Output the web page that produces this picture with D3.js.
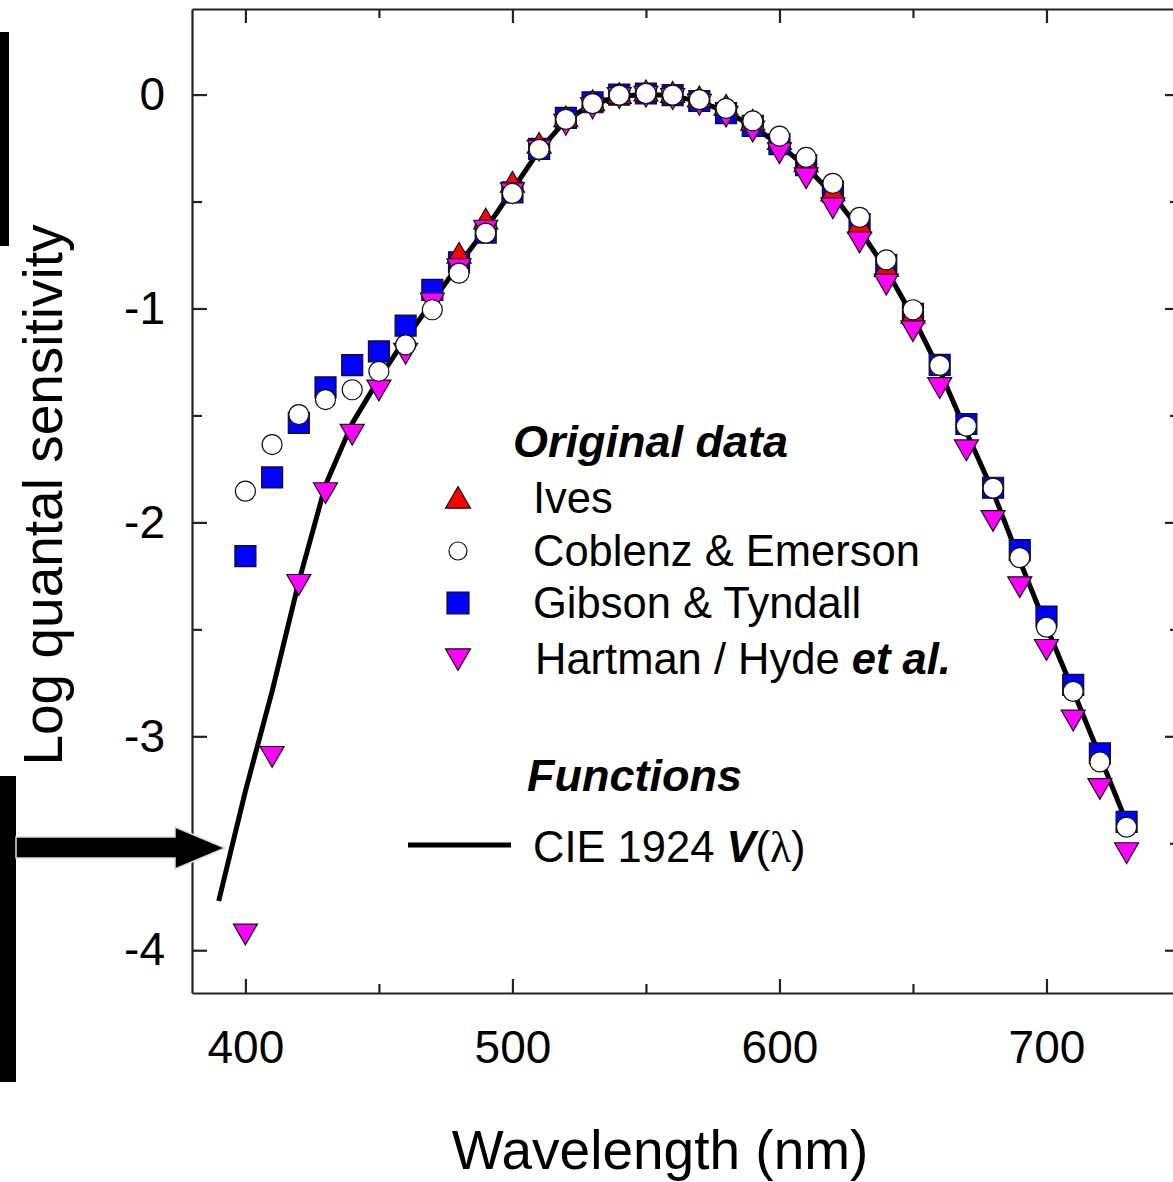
<!DOCTYPE html>
<html lang="en">
<head>
<meta charset="utf-8">
<title>Log quantal sensitivity</title>
<script src="https://d3js.org/d3.v7.min.js"></script>
<style>
  body { margin: 0; background: #fff; }
  svg { font-family: "Liberation Sans", Arial, sans-serif; }
  .axis path, .axis line { stroke: #222; stroke-width: 2.2; fill: none; }
  .axis text { font-size: 46px; fill: #000; }
</style>
</head>
<body>
<script>
// CIE 1924 V(lambda), as log quantal sensitivity
var cieNm = [390,400,410,420,430,440,450,460,470,480,490,500,510,520,530,540,550,560,570,580,
             590,600,610,620,630,640,650,660,670,680,690,700,710,720,730];
var cieLog = [-3.77,-3.256,-2.79,-2.277,-1.825,-1.537,-1.329,-1.140,-0.969,-0.794,-0.628,-0.446,
              -0.261,-0.121,-0.044,-0.009,0.002,-0.006,-0.033,-0.080,-0.148,-0.234,-0.339,-0.467,
              -0.632,-0.819,-1.039,-1.290,-1.577,-1.857,-2.180,-2.488,-2.787,-3.093,-3.403];

// original data sets
var ivesNm = [480,490,500,510,520,530,540,550,560,570,580,590,600,610,620,630,640,650];
var ivesLog = [-0.756,-0.596,-0.424,-0.242,-0.118,-0.043,-0.009,0.003,-0.004,-0.025,-0.064,
               -0.134,-0.224,-0.328,-0.463,-0.616,-0.818,-1.036];

var seriesNm = [400,410,420,430,440,450,460,470,480,490,500,510,520,530,540,550,560,570,
                580,590,600,610,620,630,640,650,660,670,680,690,700,710,720,730];
var coblenzLog = [-1.854,-1.636,-1.496,-1.426,-1.380,-1.294,-1.170,-1.006,-0.835,-0.648,-0.462,
                  -0.256,-0.116,-0.042,-0.003,0.005,-0.003,-0.024,-0.065,-0.123,-0.194,-0.294,
                  -0.415,-0.574,-0.773,-1.006,-1.266,-1.550,-1.840,-2.165,-2.490,-2.790,-3.120,-3.425];
var gibsonLog = [-2.158,-1.790,-1.535,-1.369,-1.265,-1.201,-1.080,-0.913,-0.784,-0.645,-0.457,
                 -0.254,-0.109,-0.036,0.000,0.005,-0.003,-0.030,-0.087,-0.146,-0.232,-0.330,
                 -0.454,-0.605,-0.796,-1.025,-1.264,-1.540,-1.838,-2.130,-2.440,-2.760,-3.080,-3.400];
var hartmanLog = [-3.91,-3.08,-2.276,-1.847,-1.574,-1.367,-1.196,-0.96,-0.80,-0.62,-0.445,
                  -0.245,-0.125,-0.048,0.000,0.006,-0.005,-0.032,-0.087,-0.157,-0.258,-0.375,
                  -0.515,-0.675,-0.872,-1.090,-1.356,-1.647,-1.977,-2.287,-2.580,-2.910,-3.230,-3.530];

var xMajor = [400,500,600,700];
var xMinor = [450,550,650,750];
var yMajor = [0,-1,-2,-3,-4];
var yMinor = [0.5,-0.5,-1.5,-2.5,-3.5];

var w = 1173, h = 1182;
var plotL = 192, plotR = 1180, plotT = 9, plotB = 993;

var svg = d3.select("body").append("svg")
	.attr("width", w)
	.attr("height", h);

var x = d3.scaleLinear().domain([380, 750]).range([plotL, plotR]);
var y = d3.scaleLinear().domain([-4.2, 0.4]).range([plotB, plotT]);

function zip(xs, ys) {
	return xs.map(function(d, i) { return {x: d, y: ys[i]}; });
}

// axes: major ticks long, minor ticks short, all pointing inward
function addAxis(axis, transform, labels) {
	var g = svg.append("g").attr("class", "axis").attr("transform", transform).call(axis);
	if (!labels) g.selectAll("text").remove();
	return g;
}
addAxis(d3.axisBottom(x).tickValues(xMajor).tickSize(-14).tickSizeOuter(0).tickPadding(37).tickFormat(d3.format("d")),
	"translate(0," + plotB + ")", true);
addAxis(d3.axisBottom(x).tickValues(xMinor).tickSize(-9).tickSizeOuter(0), "translate(0," + plotB + ")", false)
	.select(".domain").remove();
addAxis(d3.axisTop(x).tickValues(xMajor).tickSize(-14).tickSizeOuter(0), "translate(0," + plotT + ")", false);
addAxis(d3.axisTop(x).tickValues(xMinor).tickSize(-9).tickSizeOuter(0), "translate(0," + plotT + ")", false)
	.select(".domain").remove();
addAxis(d3.axisLeft(y).tickValues(yMajor).tickSize(-15).tickSizeOuter(0).tickPadding(27).tickFormat(d3.format("d")),
	"translate(" + plotL + ",0)", true);
addAxis(d3.axisLeft(y).tickValues(yMinor).tickSize(-10).tickSizeOuter(0), "translate(" + plotL + ",0)", false)
	.select(".domain").remove();
addAxis(d3.axisRight(y).tickValues(yMajor).tickSize(-15).tickSizeOuter(0), "translate(" + plotR + ",0)", false);
addAxis(d3.axisRight(y).tickValues(yMinor).tickSize(-10).tickSizeOuter(0), "translate(" + plotR + ",0)", false)
	.select(".domain").remove();

// use a real hyphen like the original
svg.selectAll(".axis text").text(function() { return this.textContent.replace("\u2212", "-"); });

// axis titles
svg.append("text")
	.attr("text-anchor", "middle")
	.attr("font-size", 55)
	.attr("transform", "translate(62,495) rotate(-90)")
	.text("Log quantal sensitivity");

svg.append("text")
	.attr("text-anchor", "middle")
	.attr("font-size", 55)
	.attr("x", 660)
	.attr("y", 1169)
	.text("Wavelength (nm)");

// CIE curve
var line = d3.line().x(function(d) { return x(d.x); }).y(function(d) { return y(d.y); });
svg.append("path")
	.datum(zip(cieNm, cieLog))
	.attr("d", line)
	.attr("fill", "none")
	.attr("stroke", "#000")
	.attr("stroke-width", 5)
	.attr("stroke-linejoin", "round");

// symbols
var triUp = d3.symbol().type(d3.symbolTriangle).size(250);
var square = d3.symbol().type(d3.symbolSquare).size(441);

function drawSymbols(data, pathGen, fill, rotate) {
	svg.append("g").selectAll("path")
		.data(data)
		.enter()
		.append("path")
		.attr("d", pathGen)
		.attr("transform", function(d) {
			return "translate(" + x(d.x) + "," + y(d.y) + ")" + (rotate ? " rotate(180)" : "");
		})
		.attr("fill", fill)
		.attr("stroke", "#111")
		.attr("stroke-width", 1.2);
}

drawSymbols(zip(seriesNm, gibsonLog), square, "#0000ff", false);
drawSymbols(zip(ivesNm, ivesLog), triUp, "#ff0000", false);
drawSymbols(zip(seriesNm, hartmanLog), triUp, "#ff00ff", true);

svg.append("g").selectAll("circle")
	.data(zip(seriesNm, coblenzLog))
	.enter()
	.append("circle")
	.attr("cx", function(d) { return x(d.x); })
	.attr("cy", function(d) { return y(d.y); })
	.attr("r", 10)
	.attr("fill", "#fff")
	.attr("stroke", "#111")
	.attr("stroke-width", 1.2);

// legend
var lg = svg.append("g");
lg.append("text")
	.attr("x", 513).attr("y", 457)
	.attr("font-size", 45).attr("font-weight", "bold").attr("font-style", "italic")
	.text("Original data");

var legendRows = [
	{label: "Ives", cy: 498, kind: "up"},
	{label: "Coblenz & Emerson", cy: 551, kind: "circle"},
	{label: "Gibson & Tyndall", cy: 603, kind: "square"},
	{label: "Hartman / Hyde ", cy: 659, kind: "down"}
];

legendRows.forEach(function(r) {
	if (r.kind === "circle") {
		lg.append("circle").attr("cx", 458).attr("cy", r.cy).attr("r", 9)
			.attr("fill", "#fff").attr("stroke", "#111").attr("stroke-width", 1.2);
	} else if (r.kind === "square") {
		lg.append("path").attr("d", d3.symbol().type(d3.symbolSquare).size(484))
			.attr("transform", "translate(458," + r.cy + ")")
			.attr("fill", "#0000ff").attr("stroke", "#111").attr("stroke-width", 1.2);
	} else {
		lg.append("path").attr("d", d3.symbol().type(d3.symbolTriangle).size(270))
			.attr("transform", "translate(458," + (r.cy + (r.kind === "up" ? 3 : -3)) + ")" + (r.kind === "down" ? " rotate(180)" : ""))
			.attr("fill", r.kind === "up" ? "#ff0000" : "#ff00ff").attr("stroke", "#111").attr("stroke-width", 1.2);
	}
	var t = lg.append("text")
		.attr("x", r.kind === "down" ? 535 : 533)
		.attr("y", r.cy + 15)
		.attr("font-size", 43.5)
		.text(r.label);
	if (r.kind === "down") {
		t.append("tspan").attr("font-weight", "bold").attr("font-style", "italic").text("et al.");
	}
});

lg.append("text")
	.attr("x", 527).attr("y", 791)
	.attr("font-size", 45).attr("font-weight", "bold").attr("font-style", "italic")
	.text("Functions");

lg.append("line")
	.attr("x1", 408).attr("x2", 511).attr("y1", 845).attr("y2", 845)
	.attr("stroke", "#000").attr("stroke-width", 5);

var cie = lg.append("text").attr("x", 533).attr("y", 862).attr("font-size", 43.5);
cie.append("tspan").text("CIE 1924 ");
cie.append("tspan").attr("font-weight", "bold").attr("font-style", "italic").text("V");
cie.append("tspan").text("(");
cie.append("tspan").attr("font-family", "'Liberation Serif', serif").text("\u03bb");
cie.append("tspan").text(")");

// annotation marks at the left edge
var deco = svg.append("g");
deco.append("rect").attr("x", 0).attr("y", 32).attr("width", 9).attr("height", 214).attr("fill", "#000");
deco.append("rect").attr("x", 0).attr("y", 776).attr("width", 16).attr("height", 306).attr("fill", "#000");
deco.append("path")
	.attr("d", "M16,837 L175,837 L175,827 L225,848 L175,869 L175,858 L16,858 Z")
	.attr("fill", "#000")
	.attr("stroke", "#ddd")
	.attr("stroke-width", 1.5);
</script>
</body>
</html>
